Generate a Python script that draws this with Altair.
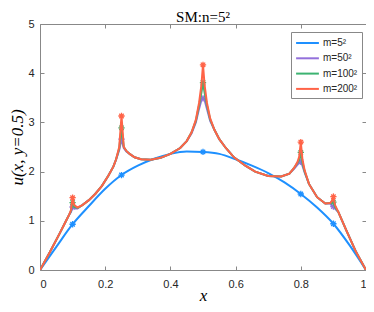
import altair as alt
import pandas as pd

# ---- data ----
X_COARSE = [0.0, 0.05, 0.1, 0.15, 0.2, 0.25, 0.3, 0.35, 0.4, 0.45, 0.5,
            0.55, 0.6, 0.65, 0.7, 0.75, 0.8, 0.85, 0.9, 0.95, 1.0]
U_M5 = [0.0, 0.47, 0.93, 1.30, 1.65, 1.93, 2.12, 2.26, 2.36, 2.41, 2.40,
        2.36, 2.25, 2.12, 1.97, 1.78, 1.545, 1.27, 0.94, 0.50, 0.0]

X_FINE = [0.0, 0.03, 0.06, 0.08, 0.09, 0.095, 0.1, 0.105, 0.115, 0.13, 0.15,
          0.17, 0.19, 0.21, 0.225, 0.233, 0.243, 0.25, 0.257, 0.265, 0.275,
          0.29, 0.31, 0.34, 0.37, 0.40, 0.43, 0.45, 0.465, 0.478, 0.488,
          0.495, 0.5, 0.505, 0.512, 0.522, 0.535, 0.55, 0.57, 0.595, 0.63,
          0.66, 0.70, 0.74, 0.765, 0.78, 0.79, 0.795, 0.8, 0.805, 0.812,
          0.825, 0.85, 0.875, 0.89, 0.895, 0.9, 0.905, 0.915, 0.94, 0.97, 1.0]
U_M200 = [0.0, 0.36, 0.74, 1.00, 1.13, 1.22, 1.47, 1.32, 1.27, 1.32, 1.42,
          1.55, 1.71, 1.92, 2.10, 2.24, 2.50, 3.13, 2.50, 2.42, 2.36,
          2.29, 2.25, 2.24, 2.28, 2.36, 2.48, 2.62, 2.80, 3.05, 3.40,
          3.75, 4.17, 3.75, 3.40, 3.08, 2.85, 2.66, 2.48, 2.29, 2.12,
          2.00, 1.91, 1.90, 1.96, 2.08, 2.20, 2.30, 2.60, 2.25, 2.02,
          1.75, 1.48, 1.35, 1.36, 1.40, 1.49, 1.32, 1.18, 0.80, 0.36, 0.0]
U_M100 = [0.0, 0.36, 0.74, 1.00, 1.13, 1.20, 1.37, 1.28, 1.26, 1.32, 1.42,
          1.55, 1.71, 1.92, 2.10, 2.24, 2.47, 2.89, 2.50, 2.42, 2.36,
          2.29, 2.25, 2.24, 2.28, 2.36, 2.48, 2.62, 2.80, 3.03, 3.35,
          3.60, 3.81, 3.60, 3.35, 3.06, 2.85, 2.66, 2.48, 2.29, 2.12,
          2.00, 1.91, 1.90, 1.96, 2.08, 2.18, 2.24, 2.39, 2.18, 2.00,
          1.75, 1.48, 1.35, 1.36, 1.37, 1.38, 1.28, 1.18, 0.80, 0.36, 0.0]
U_M50 = [0.0, 0.36, 0.74, 1.00, 1.13, 1.18, 1.28, 1.25, 1.25, 1.32, 1.42,
         1.55, 1.71, 1.92, 2.10, 2.24, 2.44, 2.66, 2.48, 2.41, 2.36,
         2.29, 2.25, 2.24, 2.28, 2.36, 2.48, 2.62, 2.78, 3.00, 3.28,
         3.45, 3.49, 3.45, 3.28, 3.03, 2.85, 2.66, 2.48, 2.29, 2.12,
         2.00, 1.91, 1.90, 1.96, 2.06, 2.14, 2.18, 2.20, 2.12, 1.98,
         1.75, 1.48, 1.35, 1.35, 1.31, 1.29, 1.25, 1.18, 0.80, 0.36, 0.0]

MARKER_X = [0.1, 0.25, 0.5, 0.8, 0.9]
LABELS = ["m=5²", "m=50²", "m=100²", "m=200²"]
COLORS = ["#1E90FF", "#9370DB", "#3CB371", "#FF6347"]
X_TICKS = [0, 0.2, 0.4, 0.6, 0.8, 1]
Y_TICKS = [0, 1, 2, 3, 4, 5]

frames = []
for lab, xs, us in [(LABELS[0], X_COARSE, U_M5), (LABELS[1], X_FINE, U_M50),
                    (LABELS[2], X_FINE, U_M100), (LABELS[3], X_FINE, U_M200)]:
    frames.append(pd.DataFrame({"x": xs, "u": us, "m": lab}))
df = pd.concat(frames, ignore_index=True)
df["marker"] = df["x"].round(4).isin(MARKER_X)

GRAY = "#888888"
TXT = "#262626"
SANS = "Liberation Sans"
SERIF = "Liberation Serif"

xsc = alt.Scale(domain=[0, 1], nice=False)
ysc = alt.Scale(domain=[0, 5], nice=False)
csc = alt.Scale(domain=LABELS, range=COLORS)

ax_bottom = alt.Axis(orient="bottom", offset=-4, domain=False, grid=False,
                     tickSize=4, tickColor=GRAY, values=X_TICKS, format="~g",
                     labelFont=SANS, labelFontSize=11, labelColor=TXT,
                     labelPadding=8, title="x", titleFont=SERIF,
                     titleFontStyle="italic", titleFontWeight="normal",
                     titleFontSize=17, titleColor="black", titlePadding=-2)
ax_left = alt.Axis(orient="left", offset=-4, domain=False, grid=False,
                   tickSize=4, tickColor=GRAY, values=Y_TICKS,
                   labelFont=SANS, labelFontSize=11, labelColor=TXT,
                   labelPadding=6, title="u(x, y=0.5)", titleFont=SERIF,
                   titleFontStyle="italic", titleFontWeight="normal",
                   titleFontSize=17, titleColor="black", titlePadding=1)
ax_top = alt.Axis(orient="top", offset=-4, domain=False, grid=False,
                  tickSize=4, tickColor=GRAY, values=X_TICKS, labels=False,
                  title=None)
ax_right = alt.Axis(orient="right", offset=-4, domain=False, grid=False,
                    tickSize=4, tickColor=GRAY, values=Y_TICKS, labels=False,
                    title=None)

LEG_LINE = "M-1.9,0L1.9,0"
legend = alt.Legend(title=None, orient="none", legendX=251, legendY=8,
                    symbolType=LEG_LINE, symbolSize=144, symbolStrokeWidth=2,
                    symbolOffset=5.5,
                    labelFont=SANS, labelFontSize=10, labelColor=TXT,
                    strokeColor=GRAY, fillColor="white", padding=4,
                    rowPadding=3.3, labelOffset=8.5)

ASTERISK = "M-1,0L1,0M0,-1L0,1M-0.7,-0.7L0.7,0.7M-0.7,0.7L0.7,-0.7"

base = alt.Chart(df)
layers = []
for i, lab in enumerate(LABELS):
    if i == 0:
        xa, ya = ax_bottom, ax_left
    elif i == 1:
        xa, ya = ax_top, ax_right
    else:
        xa, ya = None, None
    interp = "monotone" if i == 0 else "linear"
    line = base.transform_filter(alt.datum.m == lab).mark_line(
        strokeWidth=2, interpolate=interp, clip=True
    ).encode(
        x=alt.X("x:Q", scale=xsc, axis=xa),
        y=alt.Y("u:Q", scale=ysc, axis=ya),
        color=alt.Color("m:N", scale=csc, legend=legend if i == 0 else None),
    )
    pts = base.transform_filter(
        (alt.datum.m == lab) & alt.datum.marker
    ).mark_point(shape=ASTERISK, filled=False, size=40, strokeWidth=1.3,
                 opacity=1).encode(
        x=alt.X("x:Q", scale=xsc, axis=None),
        y=alt.Y("u:Q", scale=ysc, axis=None),
        color=alt.Color("m:N", scale=csc, legend=None),
    )
    layers += [line, pts]

chart = alt.layer(*layers).resolve_axis(
    x="independent", y="independent"
).properties(
    width=326, height=246,
    title=alt.Title("SM:n=5²", font=SERIF, fontSize=15, fontWeight="normal",
                    color="black", offset=2, dy=9),
    autosize=alt.AutoSizeParams(type="none"),
    padding={"left": 32, "top": 16, "right": 0, "bottom": 34},
).configure_view(stroke=GRAY, strokeWidth=1)

chart.save("out.html", embed_options={"renderer": "svg", "actions": False})
